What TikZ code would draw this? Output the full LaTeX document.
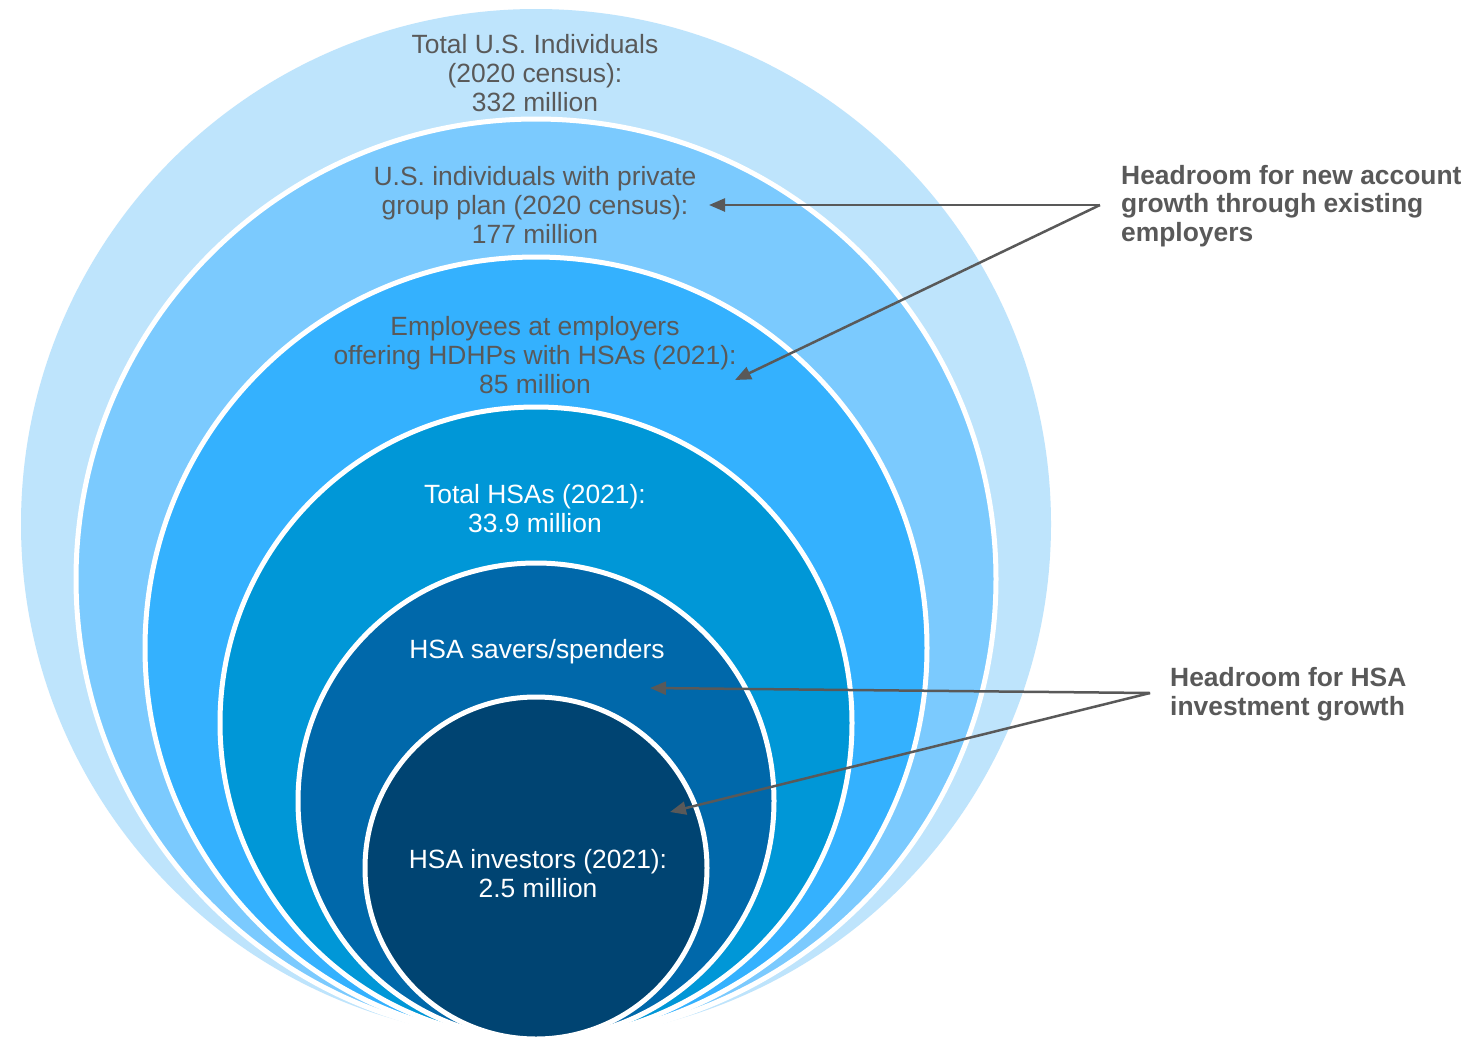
\documentclass[tikz,border=0pt]{standalone}
\usepackage{fontspec}
\setmainfont{Liberation Sans}
\usetikzlibrary{arrows.meta}
\definecolor{cA}{HTML}{BEE4FC}
\definecolor{cB}{HTML}{7BCAFE}
\definecolor{cC}{HTML}{34B1FE}
\definecolor{cD}{HTML}{0097D7}
\definecolor{cE}{HTML}{0068AA}
\definecolor{cF}{HTML}{004472}
\definecolor{txtgray}{HTML}{595959}
\begin{document}
\begin{tikzpicture}[x=1pt,y=-1pt,
  ring/.style={draw=white,line width=5pt},
  lbl/.style={align=center,font=\fontsize{26.4}{29}\selectfont,inner sep=0pt},
  darklbl/.style={lbl,text=txtgray},
  lightlbl/.style={lbl,text=white},
  note/.style={align=left,font=\bfseries\fontsize{26.4}{28.5}\selectfont,text=txtgray,inner sep=0pt,anchor=west},
  pointer/.style={draw=txtgray,line width=2.5pt,-{Triangle[length=16pt,width=13pt]}}
]
\useasboundingbox (0,0) rectangle (1476,1037);
\fill[white] (0,0) rectangle (1476,1037);
% nested circles, tangent at the bottom
\fill[cA] (536,524) circle (515pt);
\filldraw[fill=cB,ring] (536,579) circle (460pt);
\filldraw[fill=cC,ring] (536,648) circle (391pt);
\filldraw[fill=cD,ring] (536,723) circle (316pt);
\filldraw[fill=cE,ring] (536,801) circle (238pt);
\filldraw[fill=cF,ring] (536,868) circle (171pt);
% labels
\node[darklbl] (t1) at (535,73) {Total U.S. Individuals\\(2020 census):\\332 million};
\node[darklbl] (t2) at (535,205) {U.S. individuals with private\\group plan (2020 census):\\177 million};
\node[darklbl] (t3) at (535,355) {Employees at employers\\offering HDHPs with HSAs (2021):\\85 million};
\node[lightlbl] (t4) at (535,509) {Total HSAs (2021):\\33.9 million};
\node[lightlbl] (t5) at (537,652) {HSA savers/spenders};
\node[lightlbl] (t6) at (538,874) {HSA investors (2021):\\2.5 million};
\node[note] (n1) at (1121,206) {Headroom for new account\\growth through existing\\employers};
\node[note] (n2) at (1170,694) {Headroom for HSA\\investment growth};
% pointers
\coordinate (a1) at ([xshift=-21pt,yshift=1pt]n1.west);
\coordinate (a2) at ([xshift=-20pt,yshift=1pt]n2.west);
\coordinate (p1) at (709,205);
\coordinate (p2) at (735,380);
\coordinate (p3) at (650,688);
\coordinate (p4) at (670,812);
\draw[pointer] (a1) -- (p1);
\draw[pointer] (a1) -- (p2);
\draw[pointer] (a2) -- (p3);
\draw[pointer] (a2) -- (p4);
\end{tikzpicture}
\end{document}
